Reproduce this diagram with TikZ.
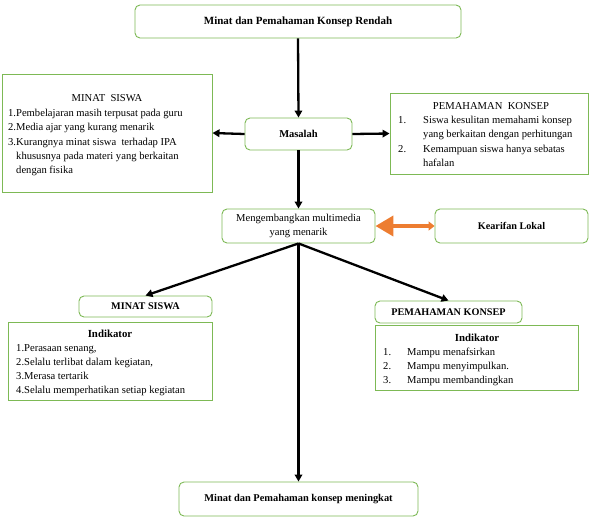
\documentclass[tikz,border=0pt]{standalone}
\usepackage{fontspec}
\setmainfont{Liberation Serif}
\usetikzlibrary{arrows.meta}
\definecolor{gbox}{RGB}{125,185,85}
\definecolor{orng}{RGB}{237,125,49}
\begin{document}
\begin{tikzpicture}[x=1pt,y=-1pt,
  rbox/.style={draw=gbox, line width=0.9pt, rounded corners=5pt, inner sep=0pt, fill=white},
  sbox/.style={draw=gbox, line width=0.9pt, inner sep=0pt, fill=white},
  txt/.style={inner sep=0pt, anchor=base west, font=\fontsize{10.6}{12}\selectfont},
  ctxt/.style={inner sep=0pt, anchor=base, font=\fontsize{10.6}{12}\selectfont},
  bld/.style={font=\fontsize{10.2}{12}\selectfont\bfseries},
  arr/.style={line width=2.3pt, -{Triangle[length=7pt,width=7.5pt]}}]
\useasboundingbox (0,0) rectangle (591,523);
% boxes
\node[rbox, minimum width=326pt, minimum height=33pt, font=\fontsize{11}{13}\selectfont\bfseries] (top) at (298,21.5) {Minat dan Pemahaman Konsep Rendah};
\node[rbox, minimum width=107pt, minimum height=32pt, font=\fontsize{10.5}{12}\selectfont\bfseries] (mas) at (298.5,134) {Masalah};
\node[sbox, minimum width=210pt, minimum height=118pt] (lbox) at (107,133) {};
\node[sbox, minimum width=198pt, minimum height=81pt] (rbox) at (489,133.5) {};
\node[rbox, minimum width=153pt, minimum height=34pt, align=center, font=\fontsize{10.6}{13.5}\selectfont] (meng) at (298.5,226) {Mengembangkan multimedia\\yang menarik};
\node[rbox, minimum width=153pt, minimum height=34pt, bld] (kear) at (511.5,226) {Kearifan Lokal};
\node[rbox, minimum width=133pt, minimum height=21pt, bld] (mtit) at (145.5,306.5) {MINAT SISWA};
\node[sbox, minimum width=204pt, minimum height=78pt] (lind) at (110,361) {};
\node[rbox, minimum width=147pt, minimum height=22pt, bld] (ptit) at (448.5,312) {PEMAHAMAN KONSEP};
\node[sbox, minimum width=203pt, minimum height=65pt] (rind) at (476.5,357.5) {};
\node[rbox, minimum width=239pt, minimum height=34pt, font=\fontsize{10.4}{12}\selectfont\bfseries] (fin) at (298.5,499) {Minat dan Pemahaman konsep meningkat};
% left box text
\node[ctxt] (l0) at (107,101.5) {MINAT\ \ SISWA};
\node[txt] (l1) at (8,116.5) {1.Pembelajaran masih terpusat pada guru};
\node[txt] (l2) at (8,130.5) {2.Media ajar yang kurang menarik};
\node[txt] (l3) at (8,145.5) {3.Kurangnya minat siswa\ \ terhadap IPA};
\node[txt] (l4) at (16,159.5) {khususnya pada materi yang berkaitan};
\node[txt] (l5) at (16,173.5) {dengan fisika};
% right box text
\node[ctxt] (r0) at (491,109.5) {PEMAHAMAN\ \ KONSEP};
\node[txt] (r1n) at (398,123.5) {1.};
\node[txt] (r1) at (423,123.5) {Siswa kesulitan memahami konsep};
\node[txt] (r2) at (423,137.5) {yang berkaitan dengan perhitungan};
\node[txt] (r3n) at (398,152.5) {2.};
\node[txt] (r3) at (423,152.5) {Kemampuan siswa hanya sebatas};
\node[txt] (r4) at (423,166.5) {hafalan};
% left indicator
\node[ctxt, font=\fontsize{10.8}{12}\selectfont\bfseries] (li0) at (110,337) {Indikator};
\node[txt] (li1) at (16,351.5) {1.Perasaan senang,};
\node[txt] (li2) at (16,365.5) {2.Selalu terlibat dalam kegiatan,};
\node[txt] (li3) at (16,379.5) {3.Merasa tertarik};
\node[txt] (li4) at (16,393.5) {4.Selalu memperhatikan setiap kegiatan};
% right indicator
\node[ctxt, font=\fontsize{10.8}{12}\selectfont\bfseries] (ri0) at (477,341) {Indikator};
\node[txt] (ri1n) at (383,355.5) {1.};
\node[txt] (ri1) at (407,355.5) {Mampu menafsirkan};
\node[txt] (ri2n) at (383,369.5) {2.};
\node[txt] (ri2) at (407,369.5) {Mampu menyimpulkan.};
\node[txt] (ri3n) at (383,383.5) {3.};
\node[txt] (ri3) at (407,383.5) {Mampu membandingkan};
% connectors
\draw[arr] (top.south) -- (mas.north);
\draw[arr] (mas.west) -- (lbox.east);
\draw[arr] (mas.east) -- (rbox.west);
\draw[arr] (mas.south) -- (meng.north);
\draw[line width=4pt, orng, {Triangle[length=18pt,width=20pt]}-{Triangle[length=6pt,width=9pt]}] (meng.east) -- (kear.west);
\draw[arr] (meng.south) -- (mtit.north);
\draw[arr] (meng.south) -- (ptit.north);
\draw[arr] (meng.south) -- (fin.north);
\end{tikzpicture}
\end{document}
